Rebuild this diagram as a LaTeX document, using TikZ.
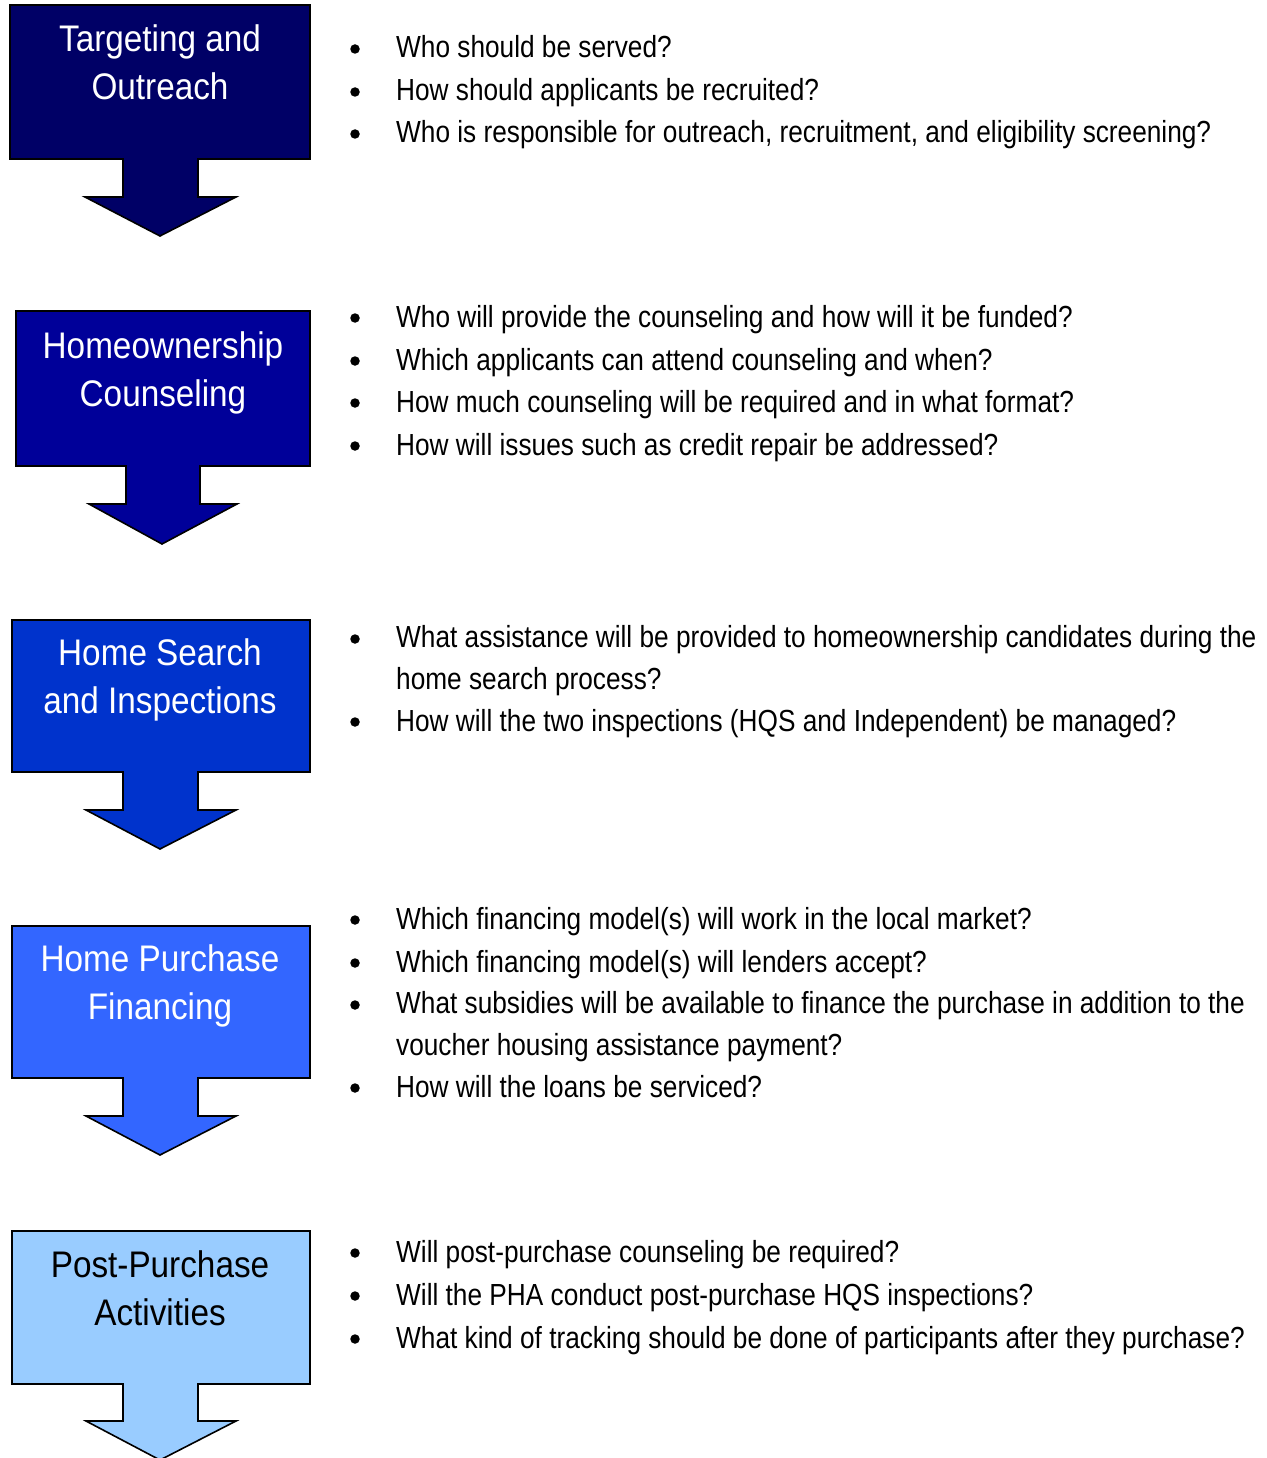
\documentclass[tikz,border=0pt]{standalone}
\usepackage{fontspec}
\setmainfont{Liberation Sans}[FakeStretch=0.86]
\newfontfamily\titlefont{Liberation Sans}[FakeStretch=0.9]
\definecolor{stageA}{HTML}{000066}
\definecolor{stageB}{HTML}{000099}
\definecolor{stageC}{HTML}{0033CC}
\definecolor{stageD}{HTML}{3366FF}
\definecolor{stageE}{HTML}{99CCFF}
\begin{document}
\begin{tikzpicture}[x=1pt,y=-1pt,
  stage/.style={draw=black,line width=1.6pt,line join=miter},
  stagelabel/.style={align=center,font=\titlefont\fontsize{37}{48}\selectfont,inner sep=0pt,anchor=base},
  item/.style={anchor=base west,inner sep=0pt,align=left,font=\fontsize{30.5}{41.5}\selectfont},
  dot/.style={fill=black,circle,inner sep=0pt,minimum size=9.5pt}]
\useasboundingbox (0,0) rectangle (1266,1458);
\fill[white] (0,0) rectangle (1266,1458);

% block arrows, one per stage
\draw[stage,fill=stageA] (10,5) -- (310,5) -- (310,159) -- (198,159) -- (198,197) -- (236,197)
  -- (160,236) -- (85,197) -- (123,197) -- (123,159) -- (10,159) -- cycle;
\draw[stage,fill=stageB] (16,311) -- (310,311) -- (310,466) -- (200,466) -- (200,504) -- (237,504)
  -- (162,544) -- (89,504) -- (126,504) -- (126,466) -- (16,466) -- cycle;
\draw[stage,fill=stageC] (12,620) -- (310,620) -- (310,772) -- (198,772) -- (198,810) -- (236,810)
  -- (160,849) -- (86,810) -- (123,810) -- (123,772) -- (12,772) -- cycle;
\draw[stage,fill=stageD] (12,926) -- (310,926) -- (310,1078) -- (198,1078) -- (198,1116) -- (236,1116)
  -- (160,1155) -- (86,1116) -- (123,1116) -- (123,1078) -- (12,1078) -- cycle;
\draw[stage,fill=stageE] (12,1231) -- (310,1231) -- (310,1384) -- (198,1384) -- (198,1421) -- (236,1421)
  -- (160,1460) -- (86,1421) -- (123,1421) -- (123,1384) -- (12,1384) -- cycle;

% stage titles (placed at the baseline of their second line)
\node[stagelabel,text=white] (t1) at (160,100) {Targeting and\\Outreach};
\node[stagelabel,text=white] (t2) at (163,406) {Homeownership\\Counseling};
\node[stagelabel,text=white] (t3) at (160,713) {Home Search\\and Inspections};
\node[stagelabel,text=white] (t4) at (160,1019) {Home Purchase\\Financing};
\node[stagelabel,text=black] (t5) at (160,1325) {Post-Purchase\\Activities};

% questions for each stage: bullet line / last baseline / text
\foreach \yb/\y/\txt [count=\i] in {
  58/58/{Who should be served?},
  101/101/{How should applicants be recruited?},
  143/143/{Who is responsible for outreach, recruitment, and eligibility screening?},
  327/327/{Who will provide the counseling and how will it be funded?},
  370/370/{Which applicants can attend counseling and when?},
  412/412/{How much counseling will be required and in what format?},
  455/455/{How will issues such as credit repair be addressed?},
  648/689/{What assistance will be provided to homeownership candidates during the\\home search process?},
  731/731/{How will the two inspections (HQS and Independent) be managed?},
  929/929/{Which financing model(s) will work in the local market?},
  972/972/{Which financing model(s) will lenders accept?},
  1014/1055/{What subsidies will be available to finance the purchase in addition to the\\voucher housing assistance payment?},
  1097/1097/{How will the loans be serviced?},
  1262/1262/{Will post-purchase counseling be required?},
  1305/1305/{Will the PHA conduct post-purchase HQS inspections?},
  1348/1348/{What kind of tracking should be done of participants after they purchase?}}
{
  \node[dot] (b\i) at (355,\yb-9) {};
  \node[item] (q\i) at (396,\y) {\txt};
}
\end{tikzpicture}
\end{document}
